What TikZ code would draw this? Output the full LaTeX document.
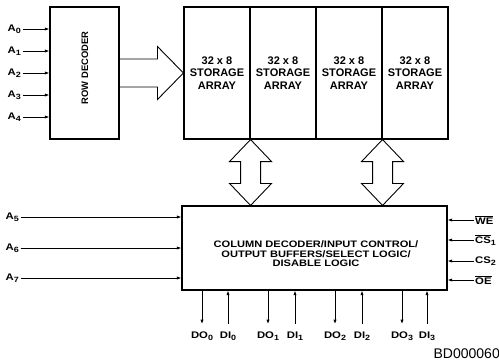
\documentclass[tikz,border=0pt]{standalone}
\usepackage{fontspec}
\setmainfont{Liberation Sans}
\newfontfamily\widefont{Liberation Sans}[FakeStretch=1.18]
\usetikzlibrary{arrows.meta,calc}
\newcommand{\pinsub}[1]{\raisebox{-0.4ex}{\fontsize{7.6}{8}\selectfont #1}}

\begin{document}
\begin{tikzpicture}[x=1pt, y=-1pt,
  blk/.style={draw, line width=1.1pt, inner sep=0pt},
  cell/.style={blk, minimum width=66pt, minimum height=132pt, align=center,
    font=\bfseries\fontsize{11}{12.7}\selectfont},
  lbl/.style={font=\widefont\bfseries\fontsize{9.6}{9.4}\selectfont, inner sep=1.5pt},
  pin/.style={lbl, anchor=base, inner ysep=7pt},
  fat/.style={draw, line width=0.9pt, line join=miter},
  sig/.style={-{Latex[length=4.5pt,width=3.2pt]}, line width=0.8pt}
]
\useasboundingbox (0,0) rectangle (499,360);

% Row decoder and storage arrays.
\node[blk, minimum width=69pt, minimum height=132pt] (rowdec) at (84.5,73) {};
\node[rotate=90, font=\bfseries\fontsize{9.4}{10}\selectfont] (rowtxt) at (85,68) {ROW DECODER};
\foreach \i in {1,...,4}
  \node[cell] (arr\i) at ({151+66*\i},73) {32 x 8\\STORAGE\\ARRAY};

\draw[fat] ($(rowdec.east)+(0,-14)$) -- ($(arr1.west)+(-26,-14)$)
  -- ($(arr1.west)+(-26,-26.5)$) -- (arr1.west) -- ($(arr1.west)+(-26,26.5)$)
  -- ($(arr1.west)+(-26,14)$) -- ($(rowdec.east)+(0,14)$);

% Column decoder block.
\node[blk, minimum width=265pt, minimum height=84pt] (coldec) at (314.5,248) {};
\node[lbl, align=center, font=\widefont\bfseries\fontsize{9.4}{9.4}\selectfont] (coltxt) at (316,254)
  {COLUMN DECODER/INPUT CONTROL/\\OUTPUT BUFFERS/SELECT LOGIC/\\DISABLE LOGIC};

\foreach \c in {arr1,arr3}{
  \coordinate (t) at (\c.south east);
  \coordinate (b) at (\c.south east |- coldec.north);
  \draw[fat] (t) -- ($(t)+(21,22)$) -- ($(t)+(10,22)$) -- ($(b)+(10,-22)$)
    -- ($(b)+(21,-22)$) -- (b) -- ($(b)+(-21,-22)$) -- ($(b)+(-10,-22)$)
    -- ($(t)+(-10,22)$) -- ($(t)+(-21,22)$) -- cycle;
}

% Address inputs.
\foreach \i/\y in {0/29,1/51,2/73,3/95,4/117}{
  \node[lbl, anchor=west] (a\i) at (6,\y) {A\pinsub{\i}};
  \draw[sig] (a\i) -- (a\i -| rowdec.west);
}
\foreach \i/\y in {5/217,6/248,7/278}{
  \node[lbl, anchor=west] (a\i) at (4,\y) {A\pinsub{\i}};
  \draw[sig] (a\i) -- (a\i -| coldec.west);
}

% Control inputs.
\node[lbl, anchor=west] (we) at (473.5,220) {$\overline{\mbox{WE}}$};
\node[lbl, anchor=west] (cs1) at (473.5,240) {$\overline{\mbox{CS}}$\pinsub{1}};
\node[lbl, anchor=west] (cs2) at (473.5,261) {CS\pinsub{2}};
\node[lbl, anchor=west] (oe) at (473.5,280) {$\overline{\mbox{OE}}$};
\foreach \n in {we,cs1,cs2,oe}
  \draw[sig] (\n) -- (\n -| coldec.east);

% Data pins.
\foreach \i/\xo/\xi in {0/202/228, 1/268/295, 2/335/362, 3/402/427}{
  \node[pin] (do\i) at (\xo,338) {DO\pinsub{\i}};
  \node[pin] (di\i) at (\xi,338) {DI\pinsub{\i}};
  \draw[sig] (do\i |- coldec.south) -- (do\i);
  \draw[sig] (di\i) -- (di\i |- coldec.south);
}

\node[anchor=base east, font=\fontsize{14}{14}\selectfont, inner sep=0pt] (bd) at (500,358) {BD000060};

\end{tikzpicture}
\end{document}
